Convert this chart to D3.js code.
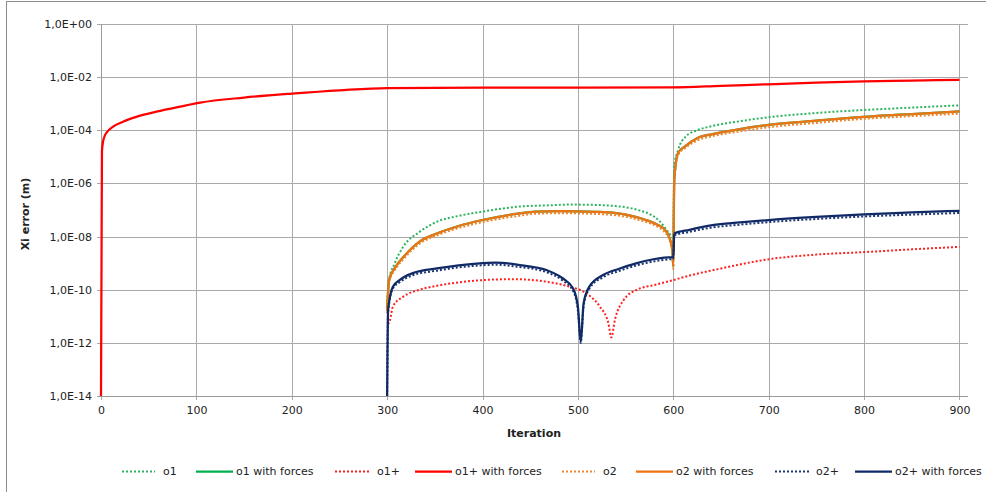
<!DOCTYPE html>
<html>
<head>
<meta charset="utf-8">
<script src="https://cdn.jsdelivr.net/npm/d3@7"></script>
<style>
  html, body { margin: 0; padding: 0; background: #fff; }
  svg { display: block; }
  text { font-family: "DejaVu Sans", Verdana, sans-serif; fill: #222; }
</style>
</head>
<body>
<svg id="chart" width="986" height="492"></svg>
<script>
// ---------- data ----------
const seriesNames = ["o1", "o1 with forces", "o1+", "o1+ with forces", "o2", "o2 with forces", "o2+", "o2+ with forces"];

const yTickValues = [1, 1e-2, 1e-4, 1e-6, 1e-8, 1e-10, 1e-12, 1e-14];
const yTickLabels = ["1,0E+00", "1,0E-02", "1,0E-04", "1,0E-06", "1,0E-08", "1,0E-10", "1,0E-12", "1,0E-14"];
const xTickValues = [0, 100, 200, 300, 400, 500, 600, 700, 800, 900];
const xTickLabels = ["0", "100", "200", "300", "400", "500", "600", "700", "800", "900"];

// o1 (green dotted)
const iterO1 = [300, 302, 308, 317, 334, 352, 375, 400, 439, 470, 491, 519, 540, 554, 565, 575, 585, 590, 596, 600,
                601, 605, 613, 625, 641, 670, 700, 747, 800, 852, 900];
const o1Vals = [2.5e-11, 2.3e-10, 1.0e-9, 4.2e-9, 1.5e-8, 3.6e-8, 6.0e-8, 8.7e-8, 1.35e-7, 1.5e-7, 1.6e-7, 1.55e-7, 1.4e-7,
                1.2e-7, 9.5e-8, 7.1e-8, 4.0e-8, 2.5e-8, 1.3e-8, 8.9e-9,
                4.3e-6, 1.8e-5, 5.8e-5, 1.0e-4, 1.45e-4, 2.2e-4, 3.1e-4, 4.4e-4, 5.8e-4, 7.2e-4, 8.7e-4];

// o1 with forces, o2, o2 with forces share these iterations
const iterO2 = [300, 302, 309, 317, 334, 352, 375, 400, 439, 455, 480, 519, 540, 554, 565, 575, 585, 590, 596, 599, 600,
                601, 605, 613, 625, 641, 670, 700, 750, 800, 850, 900];
const o1ForcesVals = [1.6e-11, 2.3e-10, 7.4e-10, 1.7e-9, 6.5e-9, 1.3e-8, 2.5e-8, 4.2e-8, 7.4e-8, 8.7e-8, 9.1e-8, 8.5e-8,
                7.6e-8, 6.3e-8, 5.0e-8, 3.8e-8, 2.6e-8, 2.0e-8, 8.9e-9, 3.2e-9, 7.4e-10,
                1.35e-6, 1.4e-5, 2.6e-5, 5.0e-5, 7.2e-5, 1.1e-4, 1.6e-4, 2.3e-4, 3.2e-4, 4.1e-4, 5.1e-4];
const o2Vals = [1.3e-11, 1.9e-10, 6.1e-10, 1.4e-9, 5.4e-9, 1.1e-8, 2.1e-8, 3.5e-8, 6.1e-8, 7.2e-8, 7.6e-8, 7.1e-8,
                6.3e-8, 5.2e-8, 4.1e-8, 3.2e-8, 2.2e-8, 1.6e-8, 7.4e-9, 2.6e-9, 6.0e-10,
                1.1e-6, 1.15e-5, 2.2e-5, 4.1e-5, 6.0e-5, 9.1e-5, 1.3e-4, 1.9e-4, 2.7e-4, 3.4e-4, 4.2e-4];
const o2ForcesVals = [1.6e-11, 2.3e-10, 7.4e-10, 1.7e-9, 6.5e-9, 1.3e-8, 2.5e-8, 4.2e-8, 7.4e-8, 8.7e-8, 9.1e-8, 8.5e-8,
                7.6e-8, 6.3e-8, 5.0e-8, 3.8e-8, 2.6e-8, 2.0e-8, 8.9e-9, 3.2e-9, 7.4e-10,
                1.35e-6, 1.4e-5, 2.6e-5, 5.0e-5, 7.2e-5, 1.1e-4, 1.6e-4, 2.3e-4, 3.2e-4, 4.1e-4, 5.1e-4];

// o1+ (red dotted)
const iterO1Plus = [301, 303, 306, 317, 334, 352, 375, 400, 432, 467, 491, 509, 523, 532, 535, 539, 548, 562, 580, 600,
                617, 650, 700, 750, 800, 850, 900];
const o1PlusVals = [5.0e-12, 7.2e-12, 2.3e-11, 5.5e-11, 1.0e-10, 1.4e-10, 1.9e-10, 2.3e-10, 2.5e-10, 2.0e-10, 1.3e-10,
                7.2e-11, 2.3e-11, 5.4e-12, 1.6e-12, 7.9e-12, 4.1e-11, 1.0e-10, 1.5e-10, 2.3e-10,
                3.4e-10, 6.3e-10, 1.4e-9, 2.1e-9, 2.6e-9, 3.3e-9, 4.1e-9];

// o1+ with forces (red solid)
const iterO1PlusForces = [0, 1, 2, 4, 6, 13, 23, 37, 58, 83, 104, 150, 200, 250, 300, 400, 500, 600, 650, 700, 750, 800, 850, 900];
const o1PlusForcesVals = [1e-14, 1.6e-5, 3.5e-5, 6.3e-5, 8.3e-5, 1.4e-4, 2.1e-4, 3.2e-4, 5.0e-4, 7.8e-4, 1.1e-3, 1.7e-3,
                2.4e-3, 3.2e-3, 3.9e-3, 4.0e-3, 4.0e-3, 4.1e-3, 4.7e-3, 5.4e-3, 6.2e-3, 6.9e-3, 7.4e-3, 7.9e-3];

// o2+ and o2+ with forces (navy)
const iterO2Plus = [300, 301, 306, 313, 327, 352, 375, 400, 414, 439, 467, 484, 495, 500, 503, 506, 512, 526, 544, 562,
                579, 599, 600, 601, 617, 641, 670, 700, 750, 800, 850, 900];
const o2PlusVals = [1e-14, 1.4e-11, 1.1e-10, 1.9e-10, 3.5e-10, 5.2e-10, 6.9e-10, 8.3e-10, 8.7e-10, 7.1e-10, 4.6e-10,
                2.2e-10, 8.9e-11, 1.6e-11, 1.0e-12, 2.5e-11, 1.1e-10, 2.9e-10, 5.2e-10, 8.3e-10, 1.15e-9, 1.4e-9, 1.4e-9,
                1.1e-8, 1.5e-8, 2.2e-8, 2.8e-8, 3.5e-8, 4.6e-8, 5.7e-8, 6.7e-8, 7.7e-8];
const o2PlusForcesVals = [1e-14, 1.7e-11, 1.3e-10, 2.3e-10, 4.2e-10, 6.3e-10, 8.3e-10, 1.0e-9, 1.05e-9, 8.5e-10, 5.5e-10,
                2.7e-10, 1.1e-10, 2.3e-11, 1.1e-12, 3.1e-11, 1.3e-10, 3.5e-10, 6.3e-10, 1.0e-9, 1.4e-9, 1.7e-9, 1.7e-9,
                1.3e-8, 1.8e-8, 2.7e-8, 3.4e-8, 4.2e-8, 5.5e-8, 6.9e-8, 8.1e-8, 9.3e-8];

// ---------- styles ----------
const seriesStyle = [
  { color: "#2DB35E", dotted: true },
  { color: "#00B050", dotted: false },
  { color: "#FF2020", dotted: true },
  { color: "#FF0000", dotted: false },
  { color: "#F0862E", dotted: true },
  { color: "#EC7414", dotted: false },
  { color: "#1B3570", dotted: true },
  { color: "#0F2A66", dotted: false }
];
const seriesData = [
  [iterO1, o1Vals],
  [iterO2, o1ForcesVals],
  [iterO1Plus, o1PlusVals],
  [iterO1PlusForces, o1PlusForcesVals],
  [iterO2, o2Vals],
  [iterO2, o2ForcesVals],
  [iterO2Plus, o2PlusVals],
  [iterO2Plus, o2PlusForcesVals]
];

// ---------- layout ----------
const svg = d3.select("#chart");
const plot = { left: 101, right: 968, top: 24, bottom: 396 };
const gridColor = "#A9A9A9";

// outer chart frame (left and top edges visible)
svg.append("rect").attr("x", 6.5).attr("y", 1.5).attr("width", 1100).attr("height", 1100)
  .attr("fill", "none").attr("stroke", "#8C8C8C").attr("stroke-width", 1);

const x = d3.scaleLinear().domain([0, 909]).range([plot.left, plot.right]);
const y = d3.scaleLog().domain([1e-14, 1]).range([plot.bottom, plot.top]);

// horizontal gridlines + y ticks
const yAxis = d3.axisLeft(y).tickValues(yTickValues)
  .tickFormat((d, i) => yTickLabels[i])
  .tickSize(-(plot.right - plot.left)).tickSizeOuter(0).tickPadding(9);
const gy = svg.append("g").attr("transform", `translate(${plot.left},0)`).call(yAxis);
gy.select(".domain").remove();
gy.selectAll(".tick line").attr("stroke", gridColor).attr("x1", -4).attr("shape-rendering", "crispEdges");
gy.selectAll(".tick text").attr("font-size", 11).attr("font-family", "DejaVu Sans, sans-serif").attr("fill", "#222");

// vertical gridlines + x ticks
const xAxis = d3.axisBottom(x).tickValues(xTickValues)
  .tickFormat((d, i) => xTickLabels[i])
  .tickSize(-(plot.bottom - plot.top)).tickSizeOuter(0).tickPadding(10);
const gx = svg.append("g").attr("transform", `translate(0,${plot.bottom})`).call(xAxis);
gx.select(".domain").remove();
gx.selectAll(".tick line").attr("stroke", gridColor).attr("y1", 4).attr("shape-rendering", "crispEdges");
gx.selectAll(".tick text").attr("font-size", 11).attr("font-family", "DejaVu Sans, sans-serif").attr("fill", "#222");

// axis lines
svg.append("line").attr("x1", plot.left).attr("x2", plot.left).attr("y1", plot.top).attr("y2", plot.bottom)
  .attr("stroke", "#9A9A9A").attr("shape-rendering", "crispEdges");
svg.append("line").attr("x1", plot.left - 4).attr("x2", plot.right).attr("y1", plot.bottom).attr("y2", plot.bottom)
  .attr("stroke", "#9A9A9A").attr("shape-rendering", "crispEdges");

// axis titles
svg.append("text").attr("x", 534).attr("y", 437).attr("text-anchor", "middle")
  .attr("font-size", 11).attr("font-weight", "bold").text("Iteration");
svg.append("text").attr("transform", "translate(29,214) rotate(-90)").attr("text-anchor", "middle")
  .attr("font-size", 11).attr("font-weight", "bold").text("Xi error (m)");

// clip
svg.append("clipPath").attr("id", "clip").append("rect")
  .attr("x", plot.left - 2).attr("y", plot.top - 2).attr("width", plot.right - plot.left + 4).attr("height", plot.bottom - plot.top + 3);

const line = d3.line().x(d => x(d[0])).y(d => y(d[1])).curve(d3.curveMonotoneX);
const gLines = svg.append("g").attr("clip-path", "url(#clip)");
seriesData.forEach((sd, i) => {
  const pts = sd[0].map((it, k) => [it, sd[1][k]]);
  const st = seriesStyle[i];
  gLines.append("path").datum(pts).attr("d", line)
    .attr("fill", "none").attr("stroke", st.color)
    .attr("stroke-width", st.dotted ? 2 : 2.25)
    .attr("stroke-dasharray", st.dotted ? "2,2" : null)
    .attr("stroke-linejoin", "round");
});

// legend
const legendItems = [
  { x1: 122, x2: 155, tx: 163 },
  { x1: 196, x2: 233, tx: 236 },
  { x1: 335, x2: 370, tx: 377 },
  { x1: 415, x2: 452, tx: 455 },
  { x1: 562, x2: 595, tx: 603 },
  { x1: 636, x2: 673, tx: 676 },
  { x1: 775, x2: 810, tx: 816 },
  { x1: 855, x2: 892, tx: 895 }
];
const ly = 471.5;
const gLeg = svg.append("g");
seriesNames.forEach((name, i) => {
  const it = legendItems[i], st = seriesStyle[i];
  gLeg.append("line").attr("x1", it.x1).attr("x2", it.x2).attr("y1", ly).attr("y2", ly)
    .attr("stroke", st.color).attr("stroke-width", st.dotted ? 2 : 2.25)
    .attr("stroke-dasharray", st.dotted ? "2,2" : null);
  gLeg.append("text").attr("x", it.tx).attr("y", ly).attr("dy", "0.35em")
    .attr("font-size", 11).text(name);
});
</script>
</body>
</html>
